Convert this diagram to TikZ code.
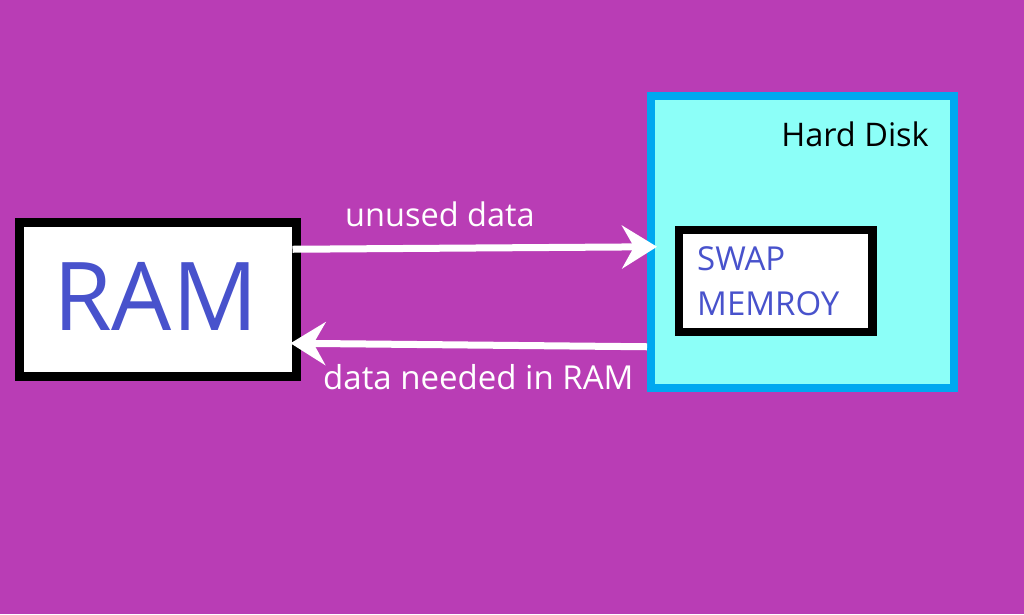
\documentclass[tikz,border=0pt]{standalone}
\usepackage{fontspec}
\setmainfont{Open Sans}
\usetikzlibrary{arrows.meta}
\definecolor{bgpurple}{RGB}{185,61,181}
\definecolor{diskfill}{RGB}{140,255,248}
\definecolor{diskline}{RGB}{0,168,240}
\definecolor{txtblue}{RGB}{72,82,204}
\tikzset{
  box/.style={draw=black, line width=9pt, fill=white, inner sep=0pt},
  flow/.style={draw=white, line width=7pt, -{Stealth[length=35pt,width=43pt,inset=12pt]}},
  lbl/.style={text=white, inner sep=0pt}
}
\begin{document}
\begin{tikzpicture}[x=1pt,y=-1pt]
\fill[bgpurple] (0,0) rectangle (1024,614);
\useasboundingbox (0,0) rectangle (1024,614);
\node[box, minimum width=276.5pt, minimum height=153.5pt] (ram) at (157.75,299.25) {};
\node[text=txtblue, inner sep=0pt, font=\fontsize{95}{110}\selectfont] (ramtxt) at (155.5,296.5) {RAM};
\node[draw=diskline, fill=diskfill, line width=8pt, inner sep=0pt, minimum width=302.5pt, minimum height=291.5pt] (hd) at (802.25,241.75) {};
\node[anchor=base east, inner sep=0pt, font=\fontsize{32.5}{38}\selectfont] (hdtxt) at (929,146) {Hard Disk};
\node[box, line width=8.5pt, minimum width=193.5pt, minimum height=102pt] (swap) at (775.75,281) {};
\node[anchor=base west, inner sep=0pt, text=txtblue, font=\fontsize{33}{38}\selectfont] (swap1) at (697,270) {SWAP};
\node[anchor=base west, inner sep=0pt, text=txtblue, font=\fontsize{33}{38}\selectfont] (swap2) at (697,315) {MEMROY};
\draw[flow] ([xshift=-8pt,yshift=50pt]ram.east) -- ([xshift=10pt,yshift=-5pt]hd.west);
\draw[flow] ([yshift=-105pt]hd.west) -- ([xshift=-10pt,yshift=-44pt]ram.east);
\node[lbl, anchor=base west, font=\fontsize{32.5}{38}\selectfont] (l1) at (345,226) {unused data};
\node[lbl, anchor=base west, font=\fontsize{33}{38}\selectfont] (l2) at (323,389) {data needed in RAM};
\end{tikzpicture}
\end{document}
